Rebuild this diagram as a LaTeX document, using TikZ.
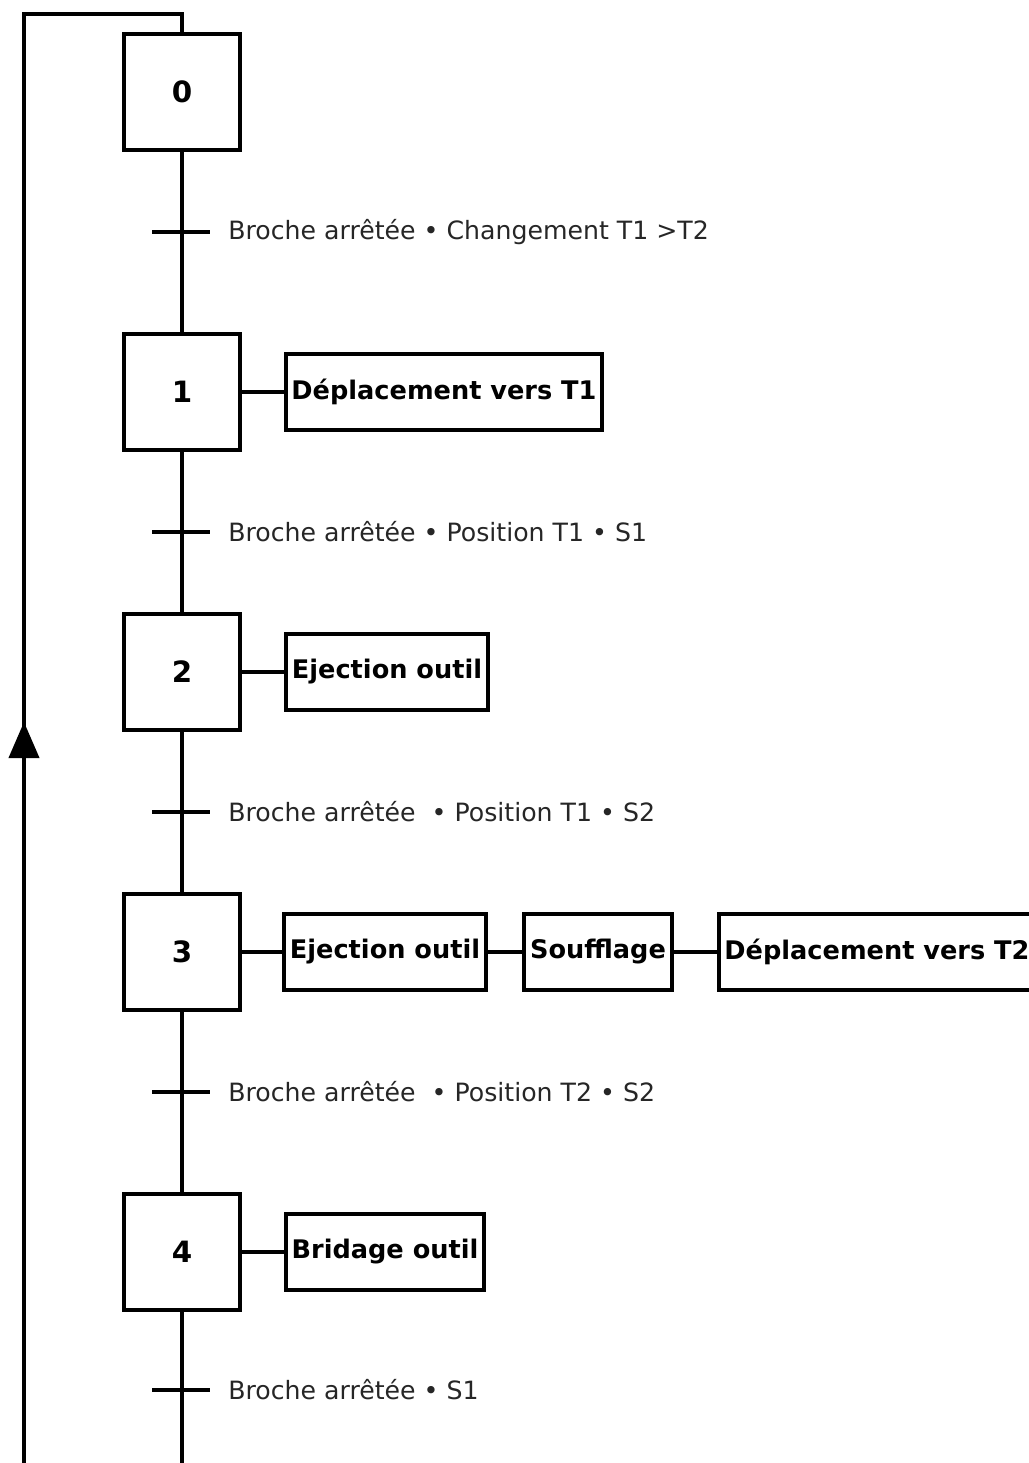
\documentclass[tikz,border=0pt]{standalone}
\usepackage{fontspec}
\setmainfont{DejaVu Sans}
\usetikzlibrary{arrows.meta}
\begin{document}
\begin{tikzpicture}[x=0.75pt,y=-0.75pt,
  lw/.style={line width=3pt},
  stepbox/.style={draw,lw,minimum width=87pt,minimum height=87pt,inner sep=0pt,outer sep=0pt,font=\fontsize{22}{26}\selectfont\bfseries},
  actbox/.style={draw,lw,minimum height=57pt,inner sep=0pt,outer sep=0pt,font=\fontsize{19.2}{23}\selectfont\bfseries},
  cond/.style={anchor=west,inner sep=0pt,font=\fontsize{18.9}{22}\selectfont,text=black!85},
  link/.style={lw},
  tick/.style={lw}]
\useasboundingbox (0,0) rectangle (1028,1463);
% steps
\node[stepbox] (s0) at (182,92) {0};
\node[stepbox] (s1) at (182,392) {1};
\node[stepbox] (s2) at (182,672) {2};
\node[stepbox] (s3) at (182,952) {3};
\node[stepbox] (s4) at (182,1252) {4};
% actions
\node[actbox,minimum width=237pt] (a1) at (444,392) {Déplacement vers T1};
\node[actbox,minimum width=151.5pt] (a2) at (387,672) {Ejection outil};
\node[actbox,minimum width=151.5pt] (a3a) at (385,952) {Ejection outil};
\node[actbox,minimum width=111pt] (a3b) at (598,952) {Soufflage};
\node[actbox,minimum width=237pt] (a3c) at (877,952) {Déplacement vers T2};
\node[actbox,minimum width=148.5pt] (a4) at (385,1252) {Bridage outil};
% links
\draw[link] (s0) -- (s1);
\draw[link] (s1) -- (s2);
\draw[link] (s2) -- (s3);
\draw[link] (s3) -- (s4);
\draw[link] (s1) -- (a1);
\draw[link] (s2) -- (a2);
\draw[link] (s3) -- (a3a);
\draw[link] (a3a) -- (a3b);
\draw[link] (a3b) -- (a3c);
\draw[link] (s4) -- (a4);
% transitions
\coordinate (t0) at (182,232);
\coordinate (t1) at (182,532);
\coordinate (t2) at (182,812);
\coordinate (t3) at (182,1092);
\coordinate (t4) at (182,1390);
\foreach \t in {t0,t1,t2,t3,t4}{
  \draw[tick] ([xshift=-22.5pt]\t) -- ([xshift=21pt]\t);
}
\node[cond] (c0) at ([xshift=34.5pt]t0) {Broche arrêtée • Changement T1 >T2};
\node[cond] (c1) at ([xshift=34.5pt]t1) {Broche arrêtée • Position T1 • S1};
\node[cond] (c2) at ([xshift=34.5pt]t2) {Broche arrêtée \ • Position T1 • S2};
\node[cond] (c3) at ([xshift=34.5pt]t3) {Broche arrêtée \ • Position T2 • S2};
\node[cond] (c4) at ([xshift=34.5pt]t4) {Broche arrêtée • S1};
% loop back
\coordinate (lb1) at (182,1470);
\coordinate (lb2) at (24,1470);
\coordinate (lt1) at (24,14);
\coordinate (lt2) at (182,14);
\coordinate (ar) at (24,722);
\draw[link,line join=miter] (s4.south) -- (lb1) -- (lb2) -- (lt1) -- (lt2) -- (s0.north);
\draw[link,-{Triangle[length=27pt,width=22.5pt]}] (lb2) -- (ar);
\end{tikzpicture}
\end{document}
